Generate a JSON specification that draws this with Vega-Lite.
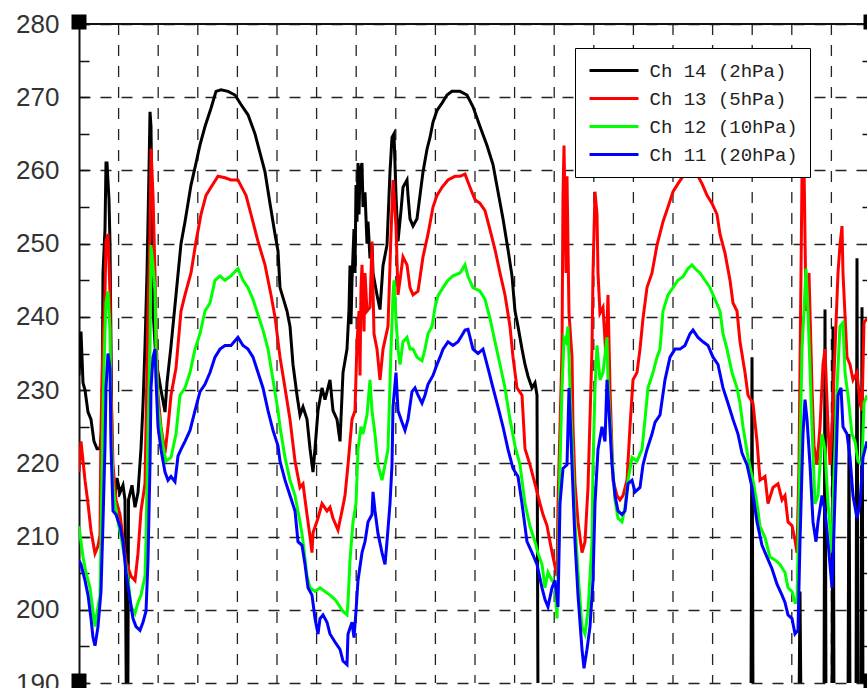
{
  "$schema": "https://vega.github.io/schema/vega-lite/v6.json",
  "width": 788,
  "height": 659,
  "autosize": {"type": "none"},
  "padding": {"left": 79, "top": 24, "right": 0, "bottom": 5},
  "background": "white",
  "config": {"view": {"stroke": null}},
  "datasets": {
    "ch14": [{"x":0,"t":232},{"x":2,"t":238},{"x":4,"t":231},{"x":6,"t":230},{"x":9,"t":227},{"x":12,"t":226},{"x":15,"t":223},{"x":18,"t":222},{"x":21,"t":222},{"x":23,"t":225},{"x":24,"t":246},{"x":26,"t":252},{"x":27,"t":261},{"x":28,"t":261},{"x":30,"t":256},{"x":31,"t":250},{"x":32,"t":236},{"x":33,"t":222},{"x":34,"t":218},{"x":36,"t":215},{"x":38,"t":218},{"x":41,"t":216},{"x":44,"t":217},{"x":46,"t":215},{"x":47.4,"t":186},{"x":48.8,"t":186},{"x":49.5,"t":215},{"x":53,"t":217},{"x":56,"t":214},{"x":59,"t":216},{"x":62,"t":222},{"x":64,"t":228},{"x":66,"t":236},{"x":68,"t":246},{"x":70,"t":260},{"x":71,"t":268},{"x":72,"t":266},{"x":74,"t":241},{"x":77,"t":234},{"x":82,"t":230},{"x":86,"t":227},{"x":88,"t":231},{"x":92,"t":236},{"x":97,"t":243},{"x":102,"t":250},{"x":106,"t":253},{"x":112,"t":258},{"x":117,"t":261},{"x":121,"t":263.5},{"x":126,"t":266},{"x":132,"t":268.5},{"x":137,"t":270.8},{"x":142,"t":271},{"x":149,"t":270.8},{"x":156,"t":270.3},{"x":162,"t":269},{"x":169,"t":267.6},{"x":176,"t":265},{"x":181,"t":262.4},{"x":186,"t":259.8},{"x":191,"t":255.5},{"x":196,"t":251.3},{"x":199,"t":249},{"x":201,"t":244},{"x":208,"t":240.8},{"x":211,"t":238.7},{"x":214,"t":233.5},{"x":218,"t":229.3},{"x":221,"t":226.6},{"x":224,"t":227.7},{"x":228,"t":226},{"x":231,"t":222},{"x":234,"t":218.8},{"x":236,"t":222},{"x":239,"t":227.2},{"x":243,"t":230.3},{"x":246,"t":228.7},{"x":251,"t":231.4},{"x":254,"t":227.2},{"x":258,"t":226},{"x":261,"t":223},{"x":264,"t":232.4},{"x":268,"t":235.6},{"x":270,"t":241},{"x":271,"t":247},{"x":272,"t":239},{"x":273,"t":245},{"x":275,"t":252},{"x":276,"t":246},{"x":277,"t":258},{"x":278,"t":253},{"x":279,"t":261},{"x":280,"t":254},{"x":281,"t":260},{"x":283,"t":261},{"x":284,"t":255},{"x":286,"t":257},{"x":288,"t":250},{"x":289,"t":253},{"x":291,"t":248},{"x":293,"t":250},{"x":294,"t":246},{"x":298,"t":243},{"x":301,"t":241},{"x":304,"t":247},{"x":308,"t":249.8},{"x":311,"t":259.8},{"x":313,"t":264.5},{"x":315,"t":265},{"x":317,"t":256.6},{"x":319,"t":250.3},{"x":322,"t":254.5},{"x":324,"t":257.7},{"x":328,"t":258.7},{"x":329,"t":256.6},{"x":331,"t":253.4},{"x":334,"t":252.4},{"x":338,"t":253.4},{"x":341,"t":256.6},{"x":344,"t":259.8},{"x":348,"t":262.9},{"x":351,"t":264.5},{"x":354,"t":266.6},{"x":358,"t":268.2},{"x":363,"t":269.2},{"x":368,"t":270.3},{"x":373,"t":270.8},{"x":378,"t":270.8},{"x":381,"t":270.8},{"x":388,"t":270.3},{"x":394,"t":268.7},{"x":401,"t":266},{"x":408,"t":263.4},{"x":414,"t":260.8},{"x":419,"t":257.1},{"x":424,"t":253.4},{"x":429,"t":249.2},{"x":433,"t":245.6},{"x":436,"t":240.8},{"x":439,"t":238.7},{"x":443,"t":235.6},{"x":446,"t":233.5},{"x":449,"t":231.9},{"x":453,"t":230.3},{"x":456,"t":231},{"x":458,"t":229.3},{"x":459,"t":186},{"x":672,"t":186},{"x":673,"t":234.5},{"x":674,"t":186},{"x":720,"t":186},{"x":721,"t":202.5},{"x":722,"t":186},{"x":745,"t":186},{"x":746,"t":241},{"x":747,"t":186},{"x":753,"t":186},{"x":754,"t":238.7},{"x":755,"t":186},{"x":769,"t":186},{"x":770,"t":224},{"x":771,"t":186},{"x":777,"t":186},{"x":778,"t":248},{"x":779,"t":186},{"x":782,"t":186},{"x":783,"t":241.3},{"x":784,"t":186},{"x":788,"t":186}],
    "ch13": [{"x":0,"t":218.8},{"x":2,"t":223},{"x":6,"t":217.7},{"x":9,"t":214.5},{"x":12,"t":210.8},{"x":16,"t":207.7},{"x":19,"t":208.7},{"x":21,"t":210.2},{"x":22,"t":225},{"x":24,"t":236.6},{"x":26,"t":243.5},{"x":27,"t":250.3},{"x":29,"t":251.3},{"x":31,"t":243.5},{"x":32,"t":230.3},{"x":34,"t":219.8},{"x":37,"t":215},{"x":41,"t":213},{"x":44,"t":209.8},{"x":47,"t":206.6},{"x":52,"t":204.6},{"x":56,"t":204},{"x":59,"t":207.7},{"x":62,"t":213.5},{"x":66,"t":217.2},{"x":67,"t":225},{"x":69,"t":240.8},{"x":71,"t":251.3},{"x":72,"t":263},{"x":74,"t":256.6},{"x":76,"t":246},{"x":77,"t":238.2},{"x":79,"t":229.3},{"x":82,"t":225},{"x":86,"t":221.4},{"x":89,"t":225},{"x":92,"t":229.3},{"x":97,"t":233},{"x":102,"t":240.8},{"x":106,"t":243},{"x":112,"t":246},{"x":117,"t":250.3},{"x":122,"t":254},{"x":127,"t":256.6},{"x":132,"t":257.7},{"x":139,"t":259.2},{"x":146,"t":259},{"x":152,"t":258.7},{"x":159,"t":258.7},{"x":162,"t":257.9},{"x":167,"t":256.6},{"x":172,"t":254},{"x":179,"t":250.3},{"x":186,"t":247.1},{"x":192,"t":243},{"x":196,"t":240},{"x":201,"t":234.5},{"x":206,"t":230.3},{"x":211,"t":226},{"x":216,"t":220.3},{"x":221,"t":216.7},{"x":224,"t":217.2},{"x":228,"t":213},{"x":231,"t":210},{"x":233,"t":207.8},{"x":234,"t":210.5},{"x":239,"t":212.5},{"x":243,"t":214.5},{"x":248,"t":213.5},{"x":251,"t":214},{"x":254,"t":212.5},{"x":259,"t":210.9},{"x":263,"t":213.5},{"x":266,"t":215.6},{"x":269,"t":219.8},{"x":273,"t":226},{"x":276,"t":227.2},{"x":278,"t":236.6},{"x":280,"t":240.8},{"x":281,"t":232},{"x":282,"t":244},{"x":283,"t":247.1},{"x":284,"t":243},{"x":285,"t":238},{"x":286,"t":246},{"x":288,"t":240.8},{"x":291,"t":241.3},{"x":293,"t":250.3},{"x":295,"t":237.7},{"x":298,"t":235.6},{"x":301,"t":231.4},{"x":304,"t":235.6},{"x":309,"t":238.7},{"x":312,"t":251.3},{"x":314,"t":258.7},{"x":317,"t":252.4},{"x":319,"t":243},{"x":321,"t":245},{"x":324,"t":248.2},{"x":328,"t":247.1},{"x":331,"t":244},{"x":334,"t":243},{"x":339,"t":243.5},{"x":344,"t":248.2},{"x":349,"t":251.3},{"x":354,"t":255},{"x":358,"t":256.6},{"x":363,"t":257.7},{"x":369,"t":258.7},{"x":376,"t":259.2},{"x":381,"t":259.2},{"x":386,"t":259.5},{"x":391,"t":257.7},{"x":396,"t":256},{"x":401,"t":255.5},{"x":406,"t":254.5},{"x":411,"t":251.9},{"x":416,"t":249.2},{"x":421,"t":246},{"x":426,"t":243},{"x":431,"t":238.7},{"x":434,"t":234.5},{"x":438,"t":230.3},{"x":443,"t":229.3},{"x":446,"t":222},{"x":451,"t":219.8},{"x":456,"t":217.2},{"x":461,"t":214.5},{"x":464,"t":213},{"x":468,"t":211.5},{"x":471,"t":209.3},{"x":474,"t":207.2},{"x":478,"t":204.6},{"x":479,"t":214.5},{"x":481,"t":225},{"x":483,"t":235.6},{"x":484,"t":256.6},{"x":485,"t":263.4},{"x":487,"t":246},{"x":488,"t":259.2},{"x":490,"t":240.5},{"x":493,"t":234.5},{"x":494,"t":225},{"x":496,"t":217.2},{"x":499,"t":212},{"x":503,"t":207.8},{"x":506,"t":209.3},{"x":509,"t":216.7},{"x":513,"t":235.6},{"x":514,"t":246},{"x":516,"t":257.1},{"x":518,"t":254},{"x":519,"t":246},{"x":521,"t":240.5},{"x":524,"t":241.3},{"x":527,"t":234.5},{"x":529,"t":243},{"x":531,"t":230.3},{"x":534,"t":217.7},{"x":538,"t":215.6},{"x":541,"t":215},{"x":544,"t":215.6},{"x":548,"t":217.7},{"x":551,"t":225},{"x":554,"t":231.4},{"x":558,"t":232.4},{"x":561,"t":235.6},{"x":564,"t":239.8},{"x":568,"t":244},{"x":573,"t":246},{"x":578,"t":249.8},{"x":584,"t":253},{"x":589,"t":255},{"x":594,"t":257.1},{"x":599,"t":258.2},{"x":604,"t":259.2},{"x":609,"t":259.5},{"x":614,"t":259.8},{"x":619,"t":259.2},{"x":623,"t":258.2},{"x":628,"t":256.6},{"x":633,"t":255.5},{"x":638,"t":254},{"x":641,"t":251.3},{"x":646,"t":248.7},{"x":651,"t":245},{"x":654,"t":241.9},{"x":658,"t":240.8},{"x":661,"t":236.6},{"x":666,"t":232.4},{"x":669,"t":229.3},{"x":674,"t":228.2},{"x":678,"t":223},{"x":681,"t":217.7},{"x":686,"t":218.2},{"x":689,"t":214.5},{"x":694,"t":216.7},{"x":699,"t":217.2},{"x":703,"t":215},{"x":706,"t":215.6},{"x":709,"t":212},{"x":713,"t":211.5},{"x":716,"t":209.5},{"x":718,"t":207.8},{"x":720,"t":219.8},{"x":723,"t":259.2},{"x":725,"t":261},{"x":727,"t":240.8},{"x":730,"t":246},{"x":733,"t":230.3},{"x":735,"t":222.4},{"x":738,"t":219.8},{"x":741,"t":225},{"x":744,"t":233.5},{"x":746,"t":235.6},{"x":749,"t":225},{"x":751,"t":219.8},{"x":753,"t":225},{"x":756,"t":235.6},{"x":759,"t":246},{"x":761,"t":249.8},{"x":763,"t":252.4},{"x":764,"t":246},{"x":768,"t":234.5},{"x":771,"t":233.5},{"x":774,"t":231.4},{"x":778,"t":232.4},{"x":781,"t":228.2},{"x":783,"t":227.2},{"x":785,"t":239.2},{"x":788,"t":239.8}],
    "ch12": [{"x":0,"t":211.4},{"x":4,"t":207.2},{"x":7,"t":205.1},{"x":11,"t":203},{"x":14,"t":199.8},{"x":16,"t":197.7},{"x":17,"t":198.8},{"x":21,"t":202},{"x":22,"t":209.3},{"x":24,"t":227.7},{"x":26,"t":238.2},{"x":27,"t":241.9},{"x":29,"t":243.5},{"x":31,"t":238.2},{"x":32,"t":225},{"x":34,"t":217.2},{"x":36,"t":214.5},{"x":39,"t":212},{"x":42,"t":210},{"x":46,"t":206.8},{"x":49,"t":204.2},{"x":52,"t":200.5},{"x":56,"t":199.5},{"x":59,"t":201},{"x":62,"t":202},{"x":66,"t":204.6},{"x":67,"t":209.3},{"x":69,"t":225},{"x":71,"t":235.6},{"x":72,"t":249.8},{"x":74,"t":247.1},{"x":76,"t":243.5},{"x":77,"t":235.6},{"x":79,"t":227.7},{"x":84,"t":222.4},{"x":87,"t":220.3},{"x":92,"t":220.8},{"x":97,"t":224},{"x":101,"t":229.3},{"x":106,"t":230.3},{"x":111,"t":232.4},{"x":116,"t":235.6},{"x":121,"t":237.7},{"x":126,"t":240.8},{"x":131,"t":241.9},{"x":136,"t":245},{"x":141,"t":245.6},{"x":146,"t":245},{"x":152,"t":245.6},{"x":159,"t":246.6},{"x":164,"t":245},{"x":169,"t":244},{"x":174,"t":242.4},{"x":179,"t":240.3},{"x":184,"t":238.2},{"x":189,"t":235.6},{"x":194,"t":231.4},{"x":199,"t":227.2},{"x":201,"t":225},{"x":206,"t":220.8},{"x":211,"t":217.7},{"x":216,"t":215.6},{"x":221,"t":212},{"x":223,"t":210.4},{"x":224,"t":209.3},{"x":228,"t":204.6},{"x":231,"t":203},{"x":236,"t":202.5},{"x":241,"t":203},{"x":246,"t":202.5},{"x":251,"t":202},{"x":256,"t":201.4},{"x":261,"t":200.4},{"x":264,"t":199.8},{"x":268,"t":199.3},{"x":269,"t":201},{"x":271,"t":206.8},{"x":274,"t":212},{"x":277,"t":214.5},{"x":279,"t":221.9},{"x":282,"t":225},{"x":284,"t":224},{"x":288,"t":226.6},{"x":291,"t":231.4},{"x":293,"t":227.2},{"x":296,"t":224},{"x":299,"t":219.8},{"x":303,"t":217.7},{"x":306,"t":219.8},{"x":309,"t":221.9},{"x":312,"t":235.6},{"x":314,"t":243},{"x":315,"t":245},{"x":317,"t":239.7},{"x":319,"t":235.6},{"x":321,"t":233.5},{"x":324,"t":236.6},{"x":328,"t":237.2},{"x":331,"t":235.6},{"x":334,"t":235.6},{"x":338,"t":234.5},{"x":343,"t":234},{"x":346,"t":235.6},{"x":349,"t":237.7},{"x":353,"t":238.7},{"x":356,"t":241.3},{"x":359,"t":242.9},{"x":364,"t":244},{"x":369,"t":245},{"x":374,"t":245.6},{"x":381,"t":246},{"x":386,"t":247.1},{"x":389,"t":245.5},{"x":394,"t":244},{"x":401,"t":243.5},{"x":406,"t":242.4},{"x":411,"t":239.8},{"x":416,"t":236.6},{"x":421,"t":233.5},{"x":426,"t":230.3},{"x":431,"t":226},{"x":436,"t":222.4},{"x":441,"t":219.8},{"x":446,"t":214.5},{"x":451,"t":211.4},{"x":456,"t":209.3},{"x":459,"t":207.7},{"x":463,"t":206.2},{"x":466,"t":203},{"x":469,"t":205.1},{"x":473,"t":204},{"x":476,"t":203.5},{"x":478,"t":198.8},{"x":479,"t":204},{"x":481,"t":219.8},{"x":483,"t":230.3},{"x":485,"t":237.1},{"x":487,"t":236.6},{"x":489,"t":238.7},{"x":491,"t":230.3},{"x":494,"t":219.8},{"x":496,"t":212},{"x":499,"t":205.1},{"x":503,"t":197.7},{"x":506,"t":196.7},{"x":509,"t":199.8},{"x":513,"t":209.3},{"x":514,"t":219.8},{"x":516,"t":230.3},{"x":518,"t":236.1},{"x":521,"t":231.4},{"x":524,"t":232.4},{"x":528,"t":237.2},{"x":529,"t":231.4},{"x":533,"t":220.8},{"x":536,"t":215},{"x":539,"t":212.5},{"x":543,"t":212},{"x":546,"t":214},{"x":549,"t":217.7},{"x":553,"t":220.8},{"x":558,"t":220.3},{"x":563,"t":221.9},{"x":566,"t":226},{"x":569,"t":230.3},{"x":574,"t":232.4},{"x":578,"t":234.5},{"x":581,"t":235.6},{"x":584,"t":240.8},{"x":589,"t":243},{"x":594,"t":244},{"x":599,"t":245},{"x":604,"t":245.5},{"x":609,"t":246.6},{"x":613,"t":247.1},{"x":616,"t":246.6},{"x":621,"t":246},{"x":626,"t":245},{"x":631,"t":244},{"x":636,"t":242.4},{"x":641,"t":240.8},{"x":644,"t":237.7},{"x":648,"t":235.6},{"x":653,"t":232.4},{"x":658,"t":230.3},{"x":661,"t":228.2},{"x":664,"t":225},{"x":669,"t":220.8},{"x":674,"t":217.7},{"x":678,"t":214.5},{"x":681,"t":211.4},{"x":686,"t":209.9},{"x":691,"t":207.2},{"x":696,"t":206.8},{"x":701,"t":206.2},{"x":706,"t":205.1},{"x":709,"t":203},{"x":713,"t":202.5},{"x":716,"t":201},{"x":718,"t":201},{"x":720,"t":214.5},{"x":723,"t":235.6},{"x":725,"t":240.8},{"x":727,"t":246.6},{"x":729,"t":240.8},{"x":733,"t":225},{"x":736,"t":214.5},{"x":739,"t":215.6},{"x":743,"t":224},{"x":746,"t":221.9},{"x":749,"t":214.5},{"x":753,"t":207.8},{"x":754,"t":214.5},{"x":758,"t":230.3},{"x":761,"t":238.7},{"x":764,"t":239.2},{"x":766,"t":232.4},{"x":769,"t":229.3},{"x":773,"t":224},{"x":776,"t":223},{"x":779,"t":220.3},{"x":783,"t":219.8},{"x":785,"t":228.2},{"x":788,"t":229.3}],
    "ch11": [{"x":0,"t":206.7},{"x":2,"t":206.2},{"x":6,"t":204},{"x":9,"t":202},{"x":12,"t":198.8},{"x":14,"t":196.2},{"x":16,"t":195.1},{"x":19,"t":197.7},{"x":22,"t":202.5},{"x":24,"t":212},{"x":26,"t":222.4},{"x":27,"t":230.3},{"x":29,"t":235},{"x":31,"t":232.9},{"x":32,"t":222.4},{"x":34,"t":213.5},{"x":37,"t":213},{"x":41,"t":211.4},{"x":44,"t":209.3},{"x":47,"t":205.1},{"x":51,"t":201.4},{"x":54,"t":198.8},{"x":57,"t":197.7},{"x":61,"t":197.2},{"x":64,"t":198.3},{"x":67,"t":199.8},{"x":69,"t":206.7},{"x":71,"t":219.8},{"x":72,"t":230.3},{"x":74,"t":234.5},{"x":76,"t":235.6},{"x":77,"t":231.4},{"x":79,"t":225},{"x":82,"t":221.9},{"x":86,"t":218.8},{"x":89,"t":217.7},{"x":92,"t":218.2},{"x":96,"t":217.5},{"x":99,"t":221},{"x":102,"t":221.9},{"x":106,"t":223},{"x":111,"t":224.5},{"x":116,"t":227.2},{"x":121,"t":229.8},{"x":126,"t":230.8},{"x":131,"t":232.4},{"x":136,"t":234.5},{"x":141,"t":235.6},{"x":146,"t":236.1},{"x":152,"t":236.1},{"x":159,"t":237.2},{"x":164,"t":236.1},{"x":169,"t":235.6},{"x":174,"t":234.5},{"x":179,"t":232.4},{"x":184,"t":230.3},{"x":189,"t":227.2},{"x":194,"t":224.5},{"x":199,"t":222.4},{"x":201,"t":220.3},{"x":206,"t":217.7},{"x":211,"t":215.6},{"x":216,"t":213.5},{"x":219,"t":209.3},{"x":223,"t":208.8},{"x":226,"t":206.2},{"x":229,"t":203},{"x":233,"t":202},{"x":236,"t":198.8},{"x":239,"t":196.7},{"x":241,"t":198.8},{"x":244,"t":199.3},{"x":248,"t":198.3},{"x":251,"t":196.7},{"x":256,"t":195.6},{"x":261,"t":194.6},{"x":264,"t":193},{"x":268,"t":192.5},{"x":269,"t":196.7},{"x":273,"t":198.3},{"x":275,"t":196.2},{"x":277,"t":199.8},{"x":279,"t":204},{"x":283,"t":207.8},{"x":286,"t":209.3},{"x":289,"t":212},{"x":293,"t":213},{"x":294,"t":216.1},{"x":296,"t":213.5},{"x":299,"t":210.4},{"x":303,"t":207.8},{"x":306,"t":206.2},{"x":308,"t":209.3},{"x":311,"t":214.5},{"x":313,"t":219.8},{"x":314,"t":227.7},{"x":317,"t":232.4},{"x":319,"t":227.2},{"x":323,"t":225.6},{"x":326,"t":224.5},{"x":329,"t":226},{"x":333,"t":229.8},{"x":336,"t":230.3},{"x":339,"t":229.3},{"x":343,"t":228.2},{"x":346,"t":229.3},{"x":349,"t":230.8},{"x":354,"t":232},{"x":358,"t":233.5},{"x":361,"t":234.5},{"x":364,"t":235.6},{"x":369,"t":236.6},{"x":374,"t":236.1},{"x":379,"t":236.6},{"x":383,"t":237.5},{"x":386,"t":238.2},{"x":389,"t":238.3},{"x":394,"t":235.6},{"x":399,"t":235},{"x":404,"t":235.6},{"x":409,"t":233},{"x":414,"t":230.3},{"x":419,"t":227.7},{"x":424,"t":225},{"x":429,"t":221.9},{"x":434,"t":219.3},{"x":439,"t":218.2},{"x":443,"t":214.5},{"x":448,"t":209.3},{"x":453,"t":207.8},{"x":458,"t":206.2},{"x":463,"t":203},{"x":466,"t":201.4},{"x":469,"t":200.4},{"x":473,"t":203},{"x":476,"t":204},{"x":479,"t":200.4},{"x":481,"t":214.5},{"x":484,"t":219.3},{"x":488,"t":219.8},{"x":490,"t":230.3},{"x":493,"t":219.8},{"x":496,"t":209.3},{"x":499,"t":202},{"x":503,"t":194.6},{"x":505,"t":192},{"x":508,"t":194.6},{"x":511,"t":197.7},{"x":514,"t":204},{"x":516,"t":214.5},{"x":519,"t":221.9},{"x":523,"t":225},{"x":526,"t":223},{"x":528,"t":231.4},{"x":530,"t":227.2},{"x":533,"t":219.8},{"x":536,"t":215.6},{"x":539,"t":213.5},{"x":543,"t":213},{"x":546,"t":213.5},{"x":549,"t":217.2},{"x":553,"t":217.7},{"x":556,"t":216.1},{"x":561,"t":216.7},{"x":564,"t":219.8},{"x":568,"t":221.9},{"x":573,"t":224},{"x":576,"t":225.6},{"x":581,"t":226.6},{"x":586,"t":231.4},{"x":591,"t":234.5},{"x":596,"t":235.6},{"x":601,"t":235.6},{"x":606,"t":236.1},{"x":611,"t":237.7},{"x":614,"t":238.2},{"x":619,"t":237.2},{"x":624,"t":236.6},{"x":629,"t":236.1},{"x":634,"t":234.5},{"x":639,"t":233.5},{"x":644,"t":230.3},{"x":649,"t":228.2},{"x":654,"t":226},{"x":659,"t":224},{"x":663,"t":221.4},{"x":668,"t":219.8},{"x":673,"t":216.7},{"x":678,"t":212},{"x":683,"t":208.8},{"x":688,"t":207.2},{"x":693,"t":205.6},{"x":698,"t":203.5},{"x":703,"t":202},{"x":706,"t":201},{"x":709,"t":199.3},{"x":713,"t":198.8},{"x":716,"t":196.7},{"x":719,"t":197.2},{"x":721,"t":209.3},{"x":724,"t":224},{"x":726,"t":228.7},{"x":728,"t":226},{"x":731,"t":219.8},{"x":734,"t":212},{"x":737,"t":209.3},{"x":739,"t":212},{"x":743,"t":215.6},{"x":746,"t":213.5},{"x":749,"t":209.3},{"x":753,"t":203},{"x":754,"t":206.7},{"x":757,"t":219.8},{"x":759,"t":229.3},{"x":762,"t":230.3},{"x":764,"t":225},{"x":768,"t":224},{"x":771,"t":220.8},{"x":774,"t":215.6},{"x":778,"t":212.5},{"x":781,"t":214.5},{"x":784,"t":220.8},{"x":788,"t":223}],
    "vgrid": [{"g": 39.6}, {"g": 79.2}, {"g": 118.8}, {"g": 158.4}, {"g": 198}, {"g": 237.6}, {"g": 277.2}, {"g": 316.8}, {"g": 356.4}, {"g": 396}, {"g": 435.6}, {"g": 475.2}, {"g": 514.8}, {"g": 554.4}, {"g": 594}, {"g": 633.6}, {"g": 673.2}, {"g": 712.8}, {"g": 752.4}],
    "frame": [{"edge": 280}],
    "corners": [{"x": 0, "t": 280}, {"x": 0, "t": 190}, {"x": 792, "t": 280}, {"x": 792, "t": 190}]
  },
  "layer": [
    {
      "data": {"name": "vgrid"},
      "mark": {"type": "rule", "color": "#222", "strokeWidth": 1.3, "strokeDash": [11, 10]},
      "encoding": {
        "x": {"field": "g", "type": "quantitative", "scale": {"domain": [0, 788], "nice": false, "zero": false}, "axis": null}
      }
    },
    {
      "data": {"name": "ch14"},
      "mark": {"type": "line", "strokeWidth": 3, "clip": true},
      "encoding": {
        "x": {"field": "x", "type": "quantitative", "scale": {"domain": [0, 788], "nice": false, "zero": false},
          "axis": {"orient": "bottom", "title": null, "values": [0],
            "labels": false, "ticks": false, "domain": true, "domainColor": "#111", "domainWidth": 2, "grid": false}},
        "y": {"field": "t", "type": "quantitative", "scale": {"domain": [190, 280], "nice": false, "zero": false},
          "axis": {"orient": "left", "title": null, "values": [190, 195, 200, 205, 210, 215, 220, 225, 230, 235, 240, 245, 250, 255, 260, 265, 270, 275, 280],
            "labelExpr": "datum.value % 10 === 0 ? datum.label : ''",
            "labelFont": "Liberation Sans", "labelFontSize": 26, "labelColor": "#333", "labelPadding": 30, "labelBaseline": "middle",
            "tickSize": -10, "tickColor": "#111", "tickWidth": 1.5,
            "domain": true, "domainColor": "#111", "domainWidth": 2,
            "grid": true, "gridColor": "#222", "gridWidth": 1.3, "gridDash": [11, 10],
            "gridOpacity": {"condition": {"test": "datum.value % 10 !== 0", "value": 0}, "value": 1}}},
        "color": {"datum": "Ch 14 (2hPa)", "type": "nominal",
          "scale": {"domain": ["Ch 14 (2hPa)", "Ch 13 (5hPa)", "Ch 12 (10hPa)", "Ch 11 (20hPa)"], "range": ["#000000", "#ff0000", "#00ff00", "#0000ff"]},
          "legend": {"orient": "none", "legendX": 496, "legendY": 24, "title": null,
            "symbolType": "M-2.72,0H2.72", "symbolSize": 324, "symbolStrokeWidth": 3, "symbolOffset": 16.5,
            "labelOffset": 25, "labelFont": "Liberation Mono", "labelFontSize": 19, "labelColor": "#222", "labelLimit": 400,
            "rowPadding": 7, "padding": 12, "strokeColor": "#000", "fillColor": "#fff", "cornerRadius": 0}}
      }
    },
    {
      "data": {"name": "ch13"},
      "mark": {"type": "line", "strokeWidth": 3, "clip": true},
      "encoding": {
        "x": {"field": "x", "type": "quantitative", "scale": {"domain": [0, 788], "nice": false, "zero": false}, "axis": null},
        "y": {"field": "t", "type": "quantitative", "scale": {"domain": [190, 280], "nice": false, "zero": false}, "axis": null},
        "color": {"datum": "Ch 13 (5hPa)", "type": "nominal"}
      }
    },
    {
      "data": {"name": "ch12"},
      "mark": {"type": "line", "strokeWidth": 3, "clip": true},
      "encoding": {
        "x": {"field": "x", "type": "quantitative", "scale": {"domain": [0, 788], "nice": false, "zero": false}, "axis": null},
        "y": {"field": "t", "type": "quantitative", "scale": {"domain": [190, 280], "nice": false, "zero": false}, "axis": null},
        "color": {"datum": "Ch 12 (10hPa)", "type": "nominal"}
      }
    },
    {
      "data": {"name": "ch11"},
      "mark": {"type": "line", "strokeWidth": 3, "clip": true},
      "encoding": {
        "x": {"field": "x", "type": "quantitative", "scale": {"domain": [0, 788], "nice": false, "zero": false}, "axis": null},
        "y": {"field": "t", "type": "quantitative", "scale": {"domain": [190, 280], "nice": false, "zero": false}, "axis": null},
        "color": {"datum": "Ch 11 (20hPa)", "type": "nominal"}
      }
    },
    {
      "data": {"name": "frame"},
      "mark": {"type": "rule", "color": "#111", "strokeWidth": 2},
      "encoding": {
        "y": {"field": "edge", "type": "quantitative", "scale": {"domain": [190, 280], "nice": false, "zero": false},
          "axis": {"orient": "right", "title": null, "values": [195, 205, 215, 225, 235, 245, 255, 265, 275],
            "labels": false, "domain": false, "grid": false, "tickSize": -5, "tickColor": "#111", "tickWidth": 1.5}}
      }
    },
    {
      "data": {"name": "corners"},
      "mark": {"type": "point", "shape": "square", "filled": true, "color": "#000", "size": 225, "opacity": 1, "yOffset": -2},
      "encoding": {
        "x": {"field": "x", "type": "quantitative", "scale": {"domain": [0, 788], "nice": false, "zero": false}, "axis": null},
        "y": {"field": "t", "type": "quantitative", "scale": {"domain": [190, 280], "nice": false, "zero": false}, "axis": null}
      }
    }
  ],
  "resolve": {"axis": {"y": "independent"}}
}
